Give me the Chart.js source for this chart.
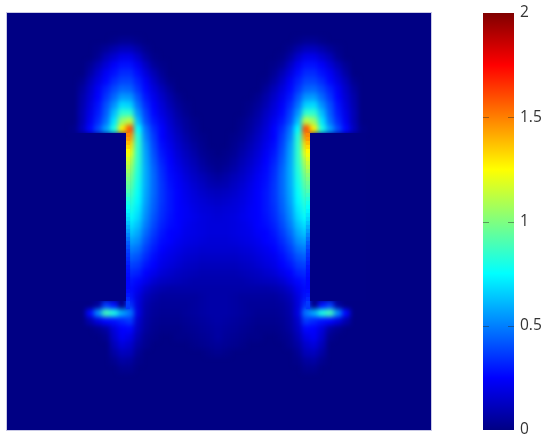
<!DOCTYPE html>
<html>
<head>
<meta charset="utf-8">
<script src="https://cdn.jsdelivr.net/npm/chart.js@4"></script>
<style>
  html, body { margin: 0; padding: 0; background: #fff; width: 550px; height: 437px; overflow: hidden; }
  #plot { position: absolute; left: 7px; top: 13px; width: 424px; height: 417px; overflow: hidden; background: rgb(0, 0, 132); box-shadow: 0 0 0 1px #c9c9e6; }
  #plot canvas { position: absolute; left: 0; top: 0; }
  #heat { filter: blur(2.6px); }
  #bar { position: absolute; left: 483px; top: 0; }
</style>
</head>
<body>
<div id="plot">
  <canvas id="heat" width="424" height="417"></canvas>
  <canvas id="sharp" width="424" height="417"></canvas>
</div>
<canvas id="bar" width="67" height="437"></canvas>
<script>
// cell indexes of the active part of the map, the rest of the plot is 0
const fieldCols = [8,9,10,11,12,13,14,15,16,17,18,19,20,21,22,23,24,25,26,27,28,29,30,31,32,33,34,35,36,37,38,39,40,41,42,43,44];
const fieldRows = [3,4,5,6,7,8,9,10,11,12,13,14,15,16,17,18,19,20,21,22,23,24,25,26,27,28,29,30,31,32,33,34,35,36,37,38,39,40,41,42,43,44];

// values x100, one line per row
const fieldValues = [
  [0,0,0,0,0,1,3,3,1,0,0,0,0,0,0,0,0,0,0,0,0,0,0,0,0,0,0,0,1,3,3,1,0,0,0,0,0],
  [0,0,0,1,4,8,11,11,7,2,0,0,0,0,0,0,0,0,0,0,0,0,0,0,0,0,0,2,7,11,11,8,4,1,0,0,0],
  [0,0,0,3,10,15,20,20,14,6,1,0,0,0,0,0,0,0,0,0,0,0,0,0,0,0,1,6,14,20,20,15,10,3,0,0,0],
  [0,0,3,9,16,23,28,28,21,12,4,1,0,0,0,0,0,0,0,0,0,0,0,0,0,1,4,12,21,28,28,23,16,9,3,0,0],
  [0,0,6,14,22,28,33,33,27,17,9,3,0,0,0,0,0,0,0,0,0,0,0,0,0,3,9,17,27,33,33,28,22,14,6,0,0],
  [0,2,10,18,26,33,38,38,31,22,13,6,1,0,0,0,0,0,0,0,0,0,0,0,1,6,13,22,31,38,38,33,26,18,10,2,0],
  [0,5,13,22,31,39,45,44,35,26,17,10,4,0,0,0,0,0,0,0,0,0,0,0,4,10,17,26,35,44,45,39,31,22,13,5,0],
  [0,7,15,25,35,45,55,54,41,29,20,13,7,2,0,0,0,0,0,0,0,0,0,2,7,13,20,29,41,54,55,45,35,25,15,7,0],
  [0,8,17,28,40,53,68,66,47,33,23,16,9,4,1,0,0,0,0,0,0,0,1,4,9,16,23,33,47,66,68,53,40,28,17,8,0],
  [0,9,19,30,43,62,84,84,54,37,26,18,12,6,2,0,0,0,0,0,0,0,2,6,12,18,26,37,54,84,84,62,43,30,19,9,0],
  [0,9,21,33,47,70,104,112,62,40,29,21,14,8,4,1,0,0,0,0,0,1,4,8,14,21,29,40,62,112,104,70,47,33,21,9,0],
  [1,11,26,39,56,80,128,160,75,47,33,24,16,10,5,2,0,0,0,0,0,2,5,10,16,24,33,47,75,160,128,80,56,39,26,11,1],
  [0,0,0,0,0,0,0,145,82,50,36,25,18,12,7,3,1,0,0,0,1,3,7,12,18,25,36,50,82,145,0,0,0,0,0,0,0],
  [0,0,0,0,0,0,0,132,84,54,38,27,20,14,9,5,2,0,0,0,2,5,9,14,20,27,38,54,84,132,0,0,0,0,0,0,0],
  [0,0,0,0,0,0,0,122,84,56,40,29,22,16,11,7,3,1,0,1,3,7,11,16,22,29,40,56,84,122,0,0,0,0,0,0,0],
  [0,0,0,0,0,0,0,112,84,57,42,31,24,18,13,9,5,2,1,2,5,9,13,18,24,31,42,57,84,112,0,0,0,0,0,0,0],
  [0,0,0,0,0,0,0,105,82,58,44,33,26,20,15,11,7,4,2,4,7,11,15,20,26,33,44,58,82,105,0,0,0,0,0,0,0],
  [0,0,0,0,0,0,0,99,80,58,45,34,27,22,17,13,10,7,5,7,10,13,17,22,27,34,45,58,80,99,0,0,0,0,0,0,0],
  [0,0,0,0,0,0,0,94,78,58,45,35,28,23,19,15,12,9,8,9,12,15,19,23,28,35,45,58,78,94,0,0,0,0,0,0,0],
  [0,0,0,0,0,0,0,89,76,57,45,35,29,24,20,17,14,12,11,12,14,17,20,24,29,35,45,57,76,89,0,0,0,0,0,0,0],
  [0,0,0,0,0,0,0,84,74,56,44,35,29,25,21,18,16,14,13,14,16,18,21,25,29,35,44,56,74,84,0,0,0,0,0,0,0],
  [0,0,0,0,0,0,0,80,71,54,43,34,29,25,22,19,17,16,15,16,17,19,22,25,29,34,43,54,71,80,0,0,0,0,0,0,0],
  [0,0,0,0,0,0,0,76,68,52,41,33,28,25,22,20,18,17,16,17,18,20,22,25,28,33,41,52,68,76,0,0,0,0,0,0,0],
  [0,0,0,0,0,0,0,70,63,49,39,31,27,24,21,19,18,17,17,17,18,19,21,24,27,31,39,49,63,70,0,0,0,0,0,0,0],
  [0,0,0,0,0,0,0,64,58,45,36,29,25,23,20,19,18,17,17,17,18,19,20,23,25,29,36,45,58,64,0,0,0,0,0,0,0],
  [0,0,0,0,0,0,0,57,53,41,33,27,24,21,19,18,17,16,16,16,17,18,19,21,24,27,33,41,53,57,0,0,0,0,0,0,0],
  [0,0,0,0,0,0,0,50,47,37,30,24,21,19,17,16,15,15,15,15,15,16,17,19,21,24,30,37,47,50,0,0,0,0,0,0,0],
  [0,0,0,0,0,0,0,44,41,33,27,21,19,17,15,14,13,13,13,13,13,14,15,17,19,21,27,33,41,44,0,0,0,0,0,0,0],
  [0,0,0,0,0,0,0,38,36,29,24,19,17,15,13,12,11,11,11,11,11,12,13,15,17,19,24,29,36,38,0,0,0,0,0,0,0],
  [0,0,0,0,0,0,0,33,31,25,20,16,14,12,11,10,9,9,9,9,9,10,11,12,14,16,20,25,31,33,0,0,0,0,0,0,0],
  [0,0,0,0,0,0,0,29,26,20,15,12,11,10,9,8,8,8,8,8,8,8,9,10,11,12,15,20,26,29,0,0,0,0,0,0,0],
  [0,0,0,0,0,0,0,27,21,14,10,8,7,7,7,7,7,7,7,7,7,7,7,7,7,8,10,14,21,27,0,0,0,0,0,0,0],
  [0,0,0,0,0,0,0,29,18,10,7,5,5,5,5,5,6,7,7,7,6,5,5,5,5,5,7,10,18,29,0,0,0,0,0,0,0],
  [0,0,0,5,36,28,0,35,17,8,5,4,4,4,4,5,6,7,7,7,6,5,4,4,4,4,5,8,17,35,0,28,36,5,0,0,0],
  [0,0,26,52,88,80,58,48,18,7,4,3,3,3,4,5,6,7,7,7,6,5,4,3,3,3,4,7,18,48,58,80,88,52,26,0,0],
  [0,0,8,18,26,28,32,36,14,6,3,2,2,2,3,4,5,6,7,6,5,4,3,2,2,2,3,6,14,36,32,28,26,18,8,0,0],
  [0,0,0,2,6,17,25,26,12,5,2,1,1,1,2,3,4,5,6,5,4,3,2,1,1,1,2,5,12,26,25,17,6,2,0,0,0],
  [0,0,0,0,2,14,22,19,9,3,1,0,0,1,1,2,3,4,6,4,3,2,1,1,0,0,1,3,9,19,22,14,2,0,0,0,0],
  [0,0,0,0,0,10,17,14,6,2,0,0,0,0,0,1,2,3,4,3,2,1,0,0,0,0,0,2,6,14,17,10,0,0,0,0,0],
  [0,0,0,0,0,6,11,10,3,0,0,0,0,0,0,0,0,1,2,1,0,0,0,0,0,0,0,0,3,10,11,6,0,0,0,0,0],
  [0,0,0,0,0,2,6,5,1,0,0,0,0,0,0,0,0,0,0,0,0,0,0,0,0,0,0,0,1,5,6,2,0,0,0,0,0],
  [0,0,0,0,0,0,2,2,0,0,0,0,0,0,0,0,0,0,0,0,0,0,0,0,0,0,0,0,0,2,2,0,0,0,0,0,0]
];

// thin hot band along each wall, x100, every half row from row 15
const leftWallValues = [148,144,138,132,126,122,118,114,110,106,102,99,96,93,90,86,82,79,76,73,70,67,63,59,55,51,47,43,40,37,35,33,31,29,28,27,26,26,26,27,29,32,36,36];
const rightWallValues = [148,144,138,132,126,122,118,114,110,106,102,99,96,93,90,86,82,79,76,73,70,67,63,59,55,51,47,43,40,37,35,33,31,29,28,27,26,26,26,27,29,32,36,36];

const colorbarRange = [[0, 2]];
const colorbarTicks = [0, 0.5, 1, 1.5, 2];
const jetStops = [[0, "#000084"], [0.125, "#0000ff"], [0.375, "#00ffff"], [0.625, "#ffff00"], [0.875, "#ff0000"], [1, "#800000"]];

const clamp = (v) => Math.max(0, Math.min(1, v));
const jet = (value) => {
  const t = value / 2;
  const r = clamp(Math.min(4 * t - 1.5, -4 * t + 4.5));
  const g = clamp(Math.min(4 * t - 0.5, -4 * t + 3.5));
  const b = clamp(Math.min(4 * t + 0.52, -4 * t + 2.5));
  return `rgb(${Math.round(r * 255)}, ${Math.round(g * 255)}, ${Math.round(b * 255)})`;
};

const cellDataset = (cells, radius) => ({
  data: cells.map((c) => ({ x: c.x, y: c.y })),
  pointStyle: "rect",
  pointRadius: radius,
  pointBorderWidth: 0,
  pointBackgroundColor: cells.map((c) => jet(c.v))
});

const mapOptions = {
  responsive: false,
  animation: false,
  events: [],
  layout: { padding: 0, autoPadding: false },
  plugins: { legend: { display: false }, tooltip: { enabled: false } },
  scales: {
    x: { type: "linear", display: false, min: 0.125, max: 53.125 },
    y: { type: "linear", display: false, reverse: true, min: 0, max: 52.125 }
  }
};

const allCells = [];
fieldRows.forEach((row, j) => {
  fieldCols.forEach((col, i) => {
    allCells.push({ col, row, x: col + 0.5, y: row + 0.5, v: fieldValues[j][i] / 100 });
  });
});

new Chart(document.getElementById("heat"), {
  type: "scatter",
  data: { datasets: [cellDataset(allCells.filter((c) => c.v > 0), 5.8)] },
  options: mapOptions
});

// crisp edges that the blurred layer can't hold: the dead zone behind the walls and the wall band
const deadCells = allCells.filter((c) => c.row >= 15 && c.row <= 35 && (c.col <= 14 || c.col >= 38));
const leftWall = leftWallValues.map((v, k) => ({ x: 15.25, y: 15.25 + k / 2, v: v / 100 }));
const rightWall = rightWallValues.map((v, k) => ({ x: 37.75, y: 15.25 + k / 2, v: v / 100 }));

new Chart(document.getElementById("sharp"), {
  type: "scatter",
  data: {
    datasets: [
      cellDataset(deadCells, 5.66),
      cellDataset(leftWall.concat(rightWall), 2.9)
    ]
  },
  options: mapOptions
});

const colorbarMarks = {
  id: "colorbarMarks",
  afterDatasetsDraw(chart) {
    const { ctx, chartArea, scales } = chart;
    ctx.save();
    ctx.strokeStyle = "rgba(40, 40, 40, 0.45)";
    ctx.lineWidth = 1;
    colorbarTicks.slice(1, -1).forEach((tick) => {
      const y = Math.round(scales.y.getPixelForValue(tick)) + 0.5;
      ctx.beginPath();
      ctx.moveTo(chartArea.left, y);
      ctx.lineTo(chartArea.left + 6, y);
      ctx.moveTo(chartArea.right - 6, y);
      ctx.lineTo(chartArea.right, y);
      ctx.stroke();
    });
    ctx.restore();
  }
};

new Chart(document.getElementById("bar"), {
  type: "bar",
  data: {
    labels: ["value"],
    datasets: [{
      data: colorbarRange,
      barPercentage: 1,
      categoryPercentage: 1,
      backgroundColor: (context) => {
        const area = context.chart.chartArea;
        if (!area) return jetStops[0][1];
        const gradient = context.chart.ctx.createLinearGradient(0, area.bottom, 0, area.top);
        jetStops.forEach(([stop, color]) => gradient.addColorStop(stop, color));
        return gradient;
      }
    }]
  },
  options: {
    responsive: false,
    animation: false,
    events: [],
    layout: { padding: { top: 13, bottom: 7 }, autoPadding: false },
    plugins: { legend: { display: false }, tooltip: { enabled: false } },
    scales: {
      x: { display: false },
      y: {
        position: "right",
        min: 0,
        max: 2,
        afterFit: (scale) => { scale.width = 36; scale.paddingTop = 0; scale.paddingBottom = 0; },
        afterBuildTicks: (scale) => { scale.ticks = colorbarTicks.map((value) => ({ value })); },
        border: { display: false },
        grid: { display: false, drawTicks: false },
        ticks: {
          color: "#333333",
          padding: 6,
          font: { family: "'Open Sans', sans-serif", size: 15.5 },
          callback: (value) => String(value)
        }
      }
    }
  },
  plugins: [colorbarMarks]
});
</script>
</body>
</html>
